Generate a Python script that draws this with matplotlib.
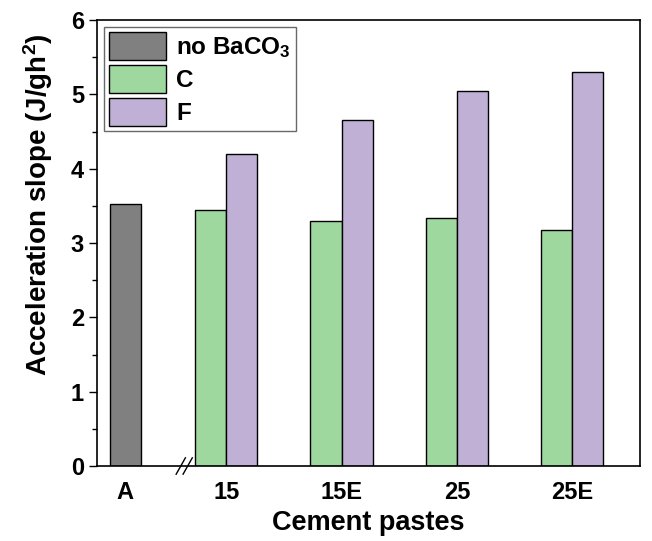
import matplotlib
matplotlib.use("Agg")
import matplotlib.pyplot as plt
import numpy as np

plt.rcParams['font.family'] = ['Liberation Sans', 'DejaVu Sans']
plt.rcParams['font.weight'] = 'bold'
plt.rcParams['mathtext.fontset'] = 'custom'
plt.rcParams['mathtext.rm'] = 'Liberation Sans:bold'
plt.rcParams['mathtext.bf'] = 'Liberation Sans:bold'
plt.rcParams['mathtext.default'] = 'bf'

# data
categories = ['A', '15', '15E', '25', '25E']
positions = [0.124, 1, 2, 3, 4]
ref_value = [3.52]
c_values = [3.45, 3.29, 3.33, 3.17]
f_values = [4.20, 4.66, 5.05, 5.30]

fig = plt.figure(figsize=(6.52, 5.41), dpi=100)
ax = fig.add_axes([0.149, 0.1386, 0.833, 0.8244])

w = 0.27
ax.bar(positions[0], ref_value, w, color='#808080', edgecolor='black', lw=1,
       label='no BaCO$_3$')
xs = np.array(positions[1:])
ax.bar(xs - w / 2, c_values, w, color='#9ED89E', edgecolor='black', lw=1, label='C')
ax.bar(xs + w / 2, f_values, w, color='#C1B0D6', edgecolor='black', lw=1, label='F')

ax.set_xlim(-0.119, 4.59)
ax.set_ylim(0, 6)
ax.set_xticks(positions)
ax.set_xticklabels(categories)
ax.set_yticks(range(7))
ax.set_yticks(np.arange(0.5, 6, 1), minor=True)
ax.tick_params(axis='x', length=0, pad=11, labelsize=17)
ax.tick_params(axis='y', which='major', length=6, width=1, labelsize=17)
ax.tick_params(axis='y', which='minor', length=3.5, width=1)
for s in ax.spines.values():
    s.set_linewidth(1.2)

ax.set_xlabel('Cement pastes', fontsize=19.5, fontweight='bold', labelpad=4)
ax.set_ylabel('Acceleration slope (J/gh$^2$)', fontsize=20, fontweight='bold')
ax.yaxis.set_label_coords(-0.078, 0.585)

# axis break mark
bx = 0.636
for dx in (-0.03, 0.03):
    ax.plot([bx + dx - 0.04, bx + dx + 0.04], [-0.11, 0.11], color='black',
            lw=1, clip_on=False, transform=ax.transData)

leg = ax.legend(loc='upper left', fontsize=17.5, frameon=True, fancybox=False,
                edgecolor='#444444', handlelength=2.35, handleheight=1.4,
                labelspacing=0.2, handletextpad=0.4, borderpad=0.2,
                borderaxespad=0.3)
leg.get_frame().set_linewidth(1)

fig.savefig('out.png', dpi=100)
